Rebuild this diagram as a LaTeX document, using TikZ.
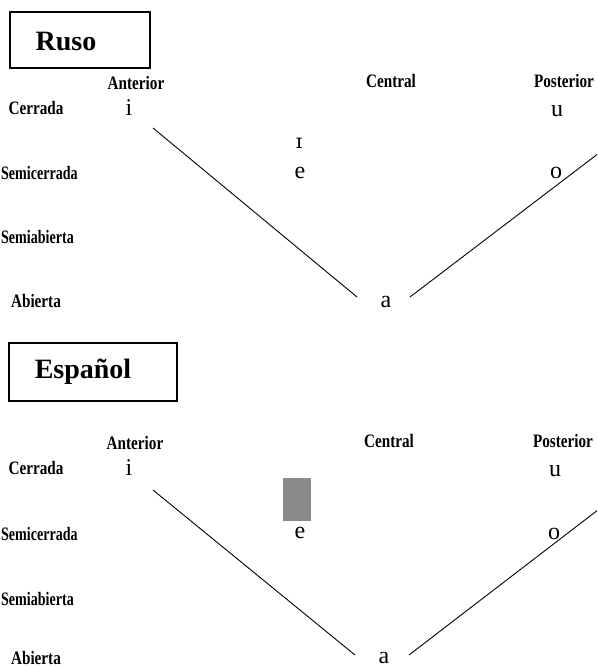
\documentclass[tikz,border=0pt]{standalone}
\usepackage{fontspec}
\setmainfont{Liberation Serif}
\newfontfamily\vowelfont{Liberation Serif}
\newfontfamily\ipafont{DejaVu Serif}
\begin{document}
\begin{tikzpicture}[x=1pt,y=-1pt,
  axislbl/.style={inner sep=0pt, font=\fontsize{19}{19}\selectfont\bfseries, xscale=0.8},
  longlbl/.style={inner sep=0pt, font=\fontsize{19}{19}\selectfont\bfseries, xscale=0.74, anchor=west},
  vowel/.style={inner sep=0pt, font=\vowelfont\fontsize{24}{24}\selectfont},
  titlebox/.style={draw, line width=1.6pt, inner sep=0pt},
  titletext/.style={inner sep=0pt, font=\fontsize{28}{28}\selectfont\bfseries},
  edge/.style={line width=0.9pt}]
\useasboundingbox (0,0) rectangle (597,669);
\clip (0,0) rectangle (597,669);
% ---------------- Ruso ----------------
\node[titlebox, minimum width=140pt, minimum height=56pt] (rbox) at (80,40) {};
\node[titletext] (rtitle) at (66,42) {Ruso};
\node[axislbl] (rant) at (136,83) {Anterior};
\node[axislbl] (rcen) at (391,81) {Central};
\node[axislbl] (rpos) at (564,81) {Posterior};
\node[axislbl] (rcer) at (36,108) {Cerrada};
\node[longlbl] (rsc) at (1,173) {Semicerrada};
\node[longlbl] (rsa) at (1,237) {Semiabierta};
\node[axislbl] (rab) at (36,301) {Abierta};
\node[vowel] (ri) at (129,108) {i};
\node[vowel] (ru) at (557,111) {u};
\node[vowel] (rI) at (299,143) {\ipafont\fontsize{20}{20}\selectfont ɪ};
\node[vowel] (re) at (300,173) {e};
\node[vowel] (ro) at (556,173) {o};
\node[vowel] (ra) at (386,302) {a};
\coordinate (rl1) at (153,128);
\coordinate (rl2) at (357,297);
\coordinate (rr1) at (410,297);
\coordinate (rr2) at (620,137);
\draw[edge] (rl1) -- (rl2);
\draw[edge] (rr1) -- (rr2);
% ---------------- Espanol ----------------
\node[titlebox, minimum width=168pt, minimum height=58pt] (ebox) at (93,372) {};
\node[titletext] (etitle) at (83,372) {Español};
\node[axislbl] (eant) at (135,443) {Anterior};
\node[axislbl] (ecen) at (389,441) {Central};
\node[axislbl] (epos) at (563,441) {Posterior};
\node[axislbl] (ecer) at (36,468) {Cerrada};
\node[longlbl] (esc) at (1,534) {Semicerrada};
\node[longlbl] (esa) at (1,599) {Semiabierta};
\node[axislbl] (eab) at (36,658) {Abierta};
\node[vowel] (ei) at (129,468) {i};
\node[vowel] (eu) at (555,471) {u};
\node[fill={rgb,255:red,138;green,138;blue,138}, minimum width=28pt, minimum height=43pt, inner sep=0pt] (egap) at (297,499.5) {};
\node[vowel] (ee) at (300,533) {e};
\node[vowel] (eo) at (554,534) {o};
\node[vowel] (ea) at (384,658) {a};
\coordinate (el1) at (153,490);
\coordinate (el2) at (355,655);
\coordinate (er1) at (409,655);
\coordinate (er2) at (620,493);
\draw[edge] (el1) -- (el2);
\draw[edge] (er1) -- (er2);
\end{tikzpicture}
\end{document}
